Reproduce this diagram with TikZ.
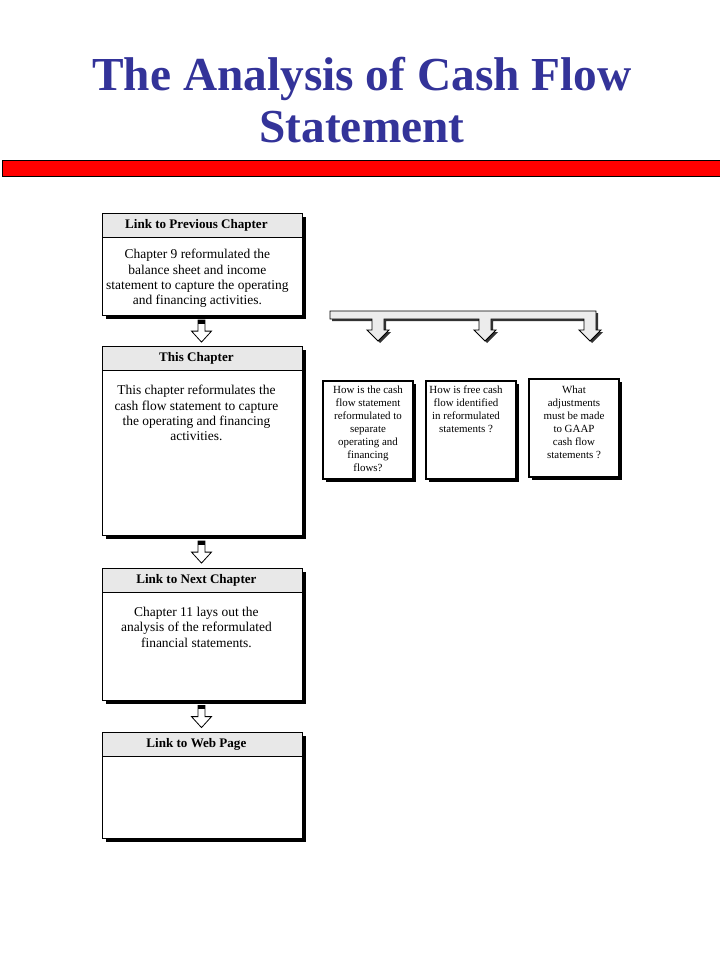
\documentclass[tikz,border=0pt]{standalone}
\usepackage{fontspec}
\setmainfont{Liberation Serif}
\usetikzlibrary{calc,shadows}
\definecolor{titleblue}{RGB}{51,51,153}
\definecolor{headgray}{RGB}{232,232,232}
\definecolor{bargray}{RGB}{236,236,236}
\begin{document}
\begin{tikzpicture}[x=0.75pt,y=-0.75pt,
  titletext/.style={font=\bfseries\fontsize{35.5}{39}\selectfont, anchor=base, inner sep=0, text=titleblue},
  panel/.style={draw, line width=0.9pt, fill=white, minimum width=150pt, anchor=north west, inner sep=0,
    drop shadow={shadow xshift=2.2pt, shadow yshift=-2.2pt, fill=black, opacity=1}},
  header/.style={draw, line width=0.6pt, fill=headgray, minimum width=150pt, minimum height=18pt,
    anchor=north west, inner sep=0, font=\bfseries\fontsize{9.8}{11}\selectfont},
  bodytext/.style={align=center, anchor=north, inner sep=0, font=\fontsize{10.1}{11.6}\selectfont},
  qbox/.style={draw, line width=0.8pt, fill=white, minimum width=67.5pt, minimum height=73.5pt, inner sep=0,
    drop shadow={shadow xshift=2pt, shadow yshift=-2pt, fill=black, opacity=1}},
  qtext/.style={align=center, anchor=north, inner sep=0, font=\fontsize{8.2}{9.75}\selectfont},
  smallarrow/.pic={
    \draw[fill=white, line width=0.6pt] (-3.5,-11) -- (-3.5,0) -- (-10,0) -- (0,11) -- (10,0) -- (3.5,0) -- (3.5,-11) -- cycle;
    \fill (-3.5,-11) rectangle (3.5,-7.5);
  }]
\useasboundingbox (0,0) rectangle (720,960);

% title
\node[titletext] (title1) at (362,90) {The Analysis of Cash Flow};
\node[titletext] (title2) at (362,142) {Statement};

% red bar
\node[draw, line width=0.8pt, fill=red, anchor=north west, minimum width=545pt, minimum height=12pt, inner sep=0] (bar) at (2,160) {};

% left column panels
\node[panel, minimum height=76.5pt] (p1) at (102,213) {};
\node[header] (h1) at (p1.north west) {Link to Previous Chapter\hspace*{9pt}};
\node[bodytext] (t1) at ($(h1.south)+(-5,11)$) {Chapter 9 reformulated the\\balance sheet and income\\statement to capture the operating\\and financing activities.};

\node[panel, minimum height=141.75pt] (p2) at (102,346) {};
\node[header] (h2) at (p2.north west) {This Chapter\hspace*{9pt}};
\node[bodytext] (t2) at ($(h2.south)+(-6,14)$) {This chapter reformulates the\\cash flow statement to capture\\the operating and financing\\activities.};

\node[panel, minimum height=99pt] (p3) at (102,568) {};
\node[header] (h3) at (p3.north west) {Link to Next Chapter\hspace*{9pt}};
\node[bodytext] (t3) at ($(h3.south)+(-6,14)$) {Chapter 11 lays out the\\analysis of the reformulated\\financial statements.};

\node[panel, minimum height=79.5pt] (p4) at (102,732) {};
\node[header] (h4) at (p4.north west) {Link to Web Page\hspace*{9pt}};

% small block arrows between panels
\coordinate (a1) at ($(p1.south)!0.5!(h2.north)$);
\coordinate (a2) at ($(p2.south)!0.5!(h3.north)$);
\coordinate (a3) at ($(p3.south)!0.5!(h4.north)$);
\pic at ($(a1)+(-1,0)$) {smallarrow};
\pic at ($(a2)+(-1,0)$) {smallarrow};
\pic at ($(a3)+(-1,0)$) {smallarrow};

% question boxes
\node[qbox] (qa) at (368,430) {};
\node[qbox] (qb) at (471,430) {};
\node[qbox] (qc) at (574,428) {};
\node[qtext] (qat) at ($(qa.north)+(0,5)$) {How is the cash\\flow statement\\reformulated to\\separate\\operating and\\financing\\flows?};
\node[qtext] (qbt) at ($(qb.north)+(-5,5)$) {How is free cash\\flow identified\\in reformulated\\statements ?};
\node[qtext] (qct) at ($(qc.north)+(0,7)$) {What\\adjustments\\must be made\\to GAAP\\cash flow\\statements ?};

% branching block arrow
\def\branchpath{(330,311) -- (596,311) -- (596,330) -- (601,330) -- (590,341) -- (579,330) -- (584,330) -- (584,319) -- (491,319) -- (491,330) -- (496,330) -- (485,341) -- (474,330) -- (479,330) -- (479,319) -- (384,319) -- (384,330) -- (389,330) -- (378,341) -- (367,330) -- (372,330) -- (372,319) -- (330,319) -- cycle}
\fill[black!80, shift={(2,2)}] \branchpath;
\draw[fill=bargray, line width=0.7pt] \branchpath;
\end{tikzpicture}
\end{document}
